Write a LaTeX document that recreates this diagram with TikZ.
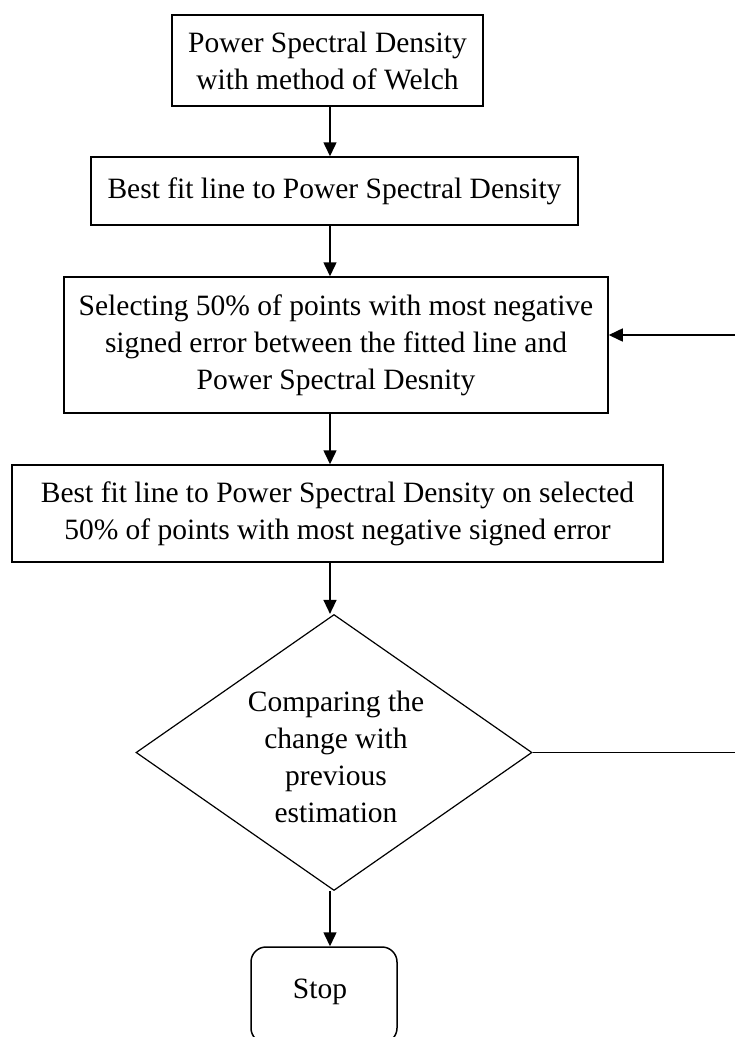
\documentclass[tikz,border=0pt]{standalone}
\usepackage{fontspec}
\setmainfont{Liberation Serif}
\usetikzlibrary{shapes.geometric,arrows.meta}
\begin{document}
\begin{tikzpicture}[x=1pt,y=-1pt,
  every node/.style={font=\fontsize{29.5}{37}\selectfont, text=black},
  procbox/.style={draw, line width=1.5pt, rectangle, inner sep=0pt, align=center},
  decision/.style={draw, line width=1.2pt, diamond, inner sep=0pt},
  stopbox/.style={draw, line width=1.5pt, rectangle, rounded corners=15pt, inner sep=0pt},
  arr/.style={line width=1.5pt, -{Triangle[length=14pt,width=13pt]}},
  plain/.style={line width=1.5pt}]
  \useasboundingbox (0,0) rectangle (735,1037);

  % process steps
  \node[procbox, minimum width=311pt, minimum height=91pt] (psd) at (327.5,60.5)
    {Power Spectral Density\\with method of Welch};
  \node[procbox, minimum width=487pt, minimum height=68pt] (fit) at (334.5,191)
    {Best fit line to Power Spectral Density};
  \node[procbox, minimum width=544pt, minimum height=136pt] (sel) at (336,345)
    {Selecting 50\% of points with most negative\\signed error between the fitted line and\\Power Spectral Desnity};
  \node[procbox, minimum width=651pt, minimum height=97pt] (refit) at (337.5,513.5)
    {Best fit line to Power Spectral Density on selected\\50\% of points with most negative signed error};

  % decision
  \node[decision, minimum width=396pt, minimum height=276pt] (cmp) at (334,752.5) {};
  \node[align=center] (cmptext) at (336,757)
    {Comparing the\\change with\\previous\\estimation};

  % end
  \node[stopbox, minimum width=146pt, minimum height=96pt] (stop) at (324,995) {};
  \node (stoptext) at (320,992) {Stop};

  % main flow
  \coordinate (ax) at (330,0);
  \draw[arr] (psd.south -| ax) -- (fit.north -| ax);
  \draw[arr] (fit.south -| ax) -- (sel.north -| ax);
  \draw[arr] (sel.south -| ax) -- (refit.north -| ax);
  \draw[arr] (refit.south -| ax) -- (cmp.north -| ax);
  \draw[arr] (cmp.south -| ax) -- (stop.north -| ax);

  % feedback loop back to the selection step
  \coordinate (loopx) at (752,0);
  \coordinate (loopy) at (0,335);
  \draw[arr] (cmp.east) -- (cmp.east -| loopx) -- (loopx |- loopy) -- (sel.east |- loopy);
\end{tikzpicture}
\end{document}
